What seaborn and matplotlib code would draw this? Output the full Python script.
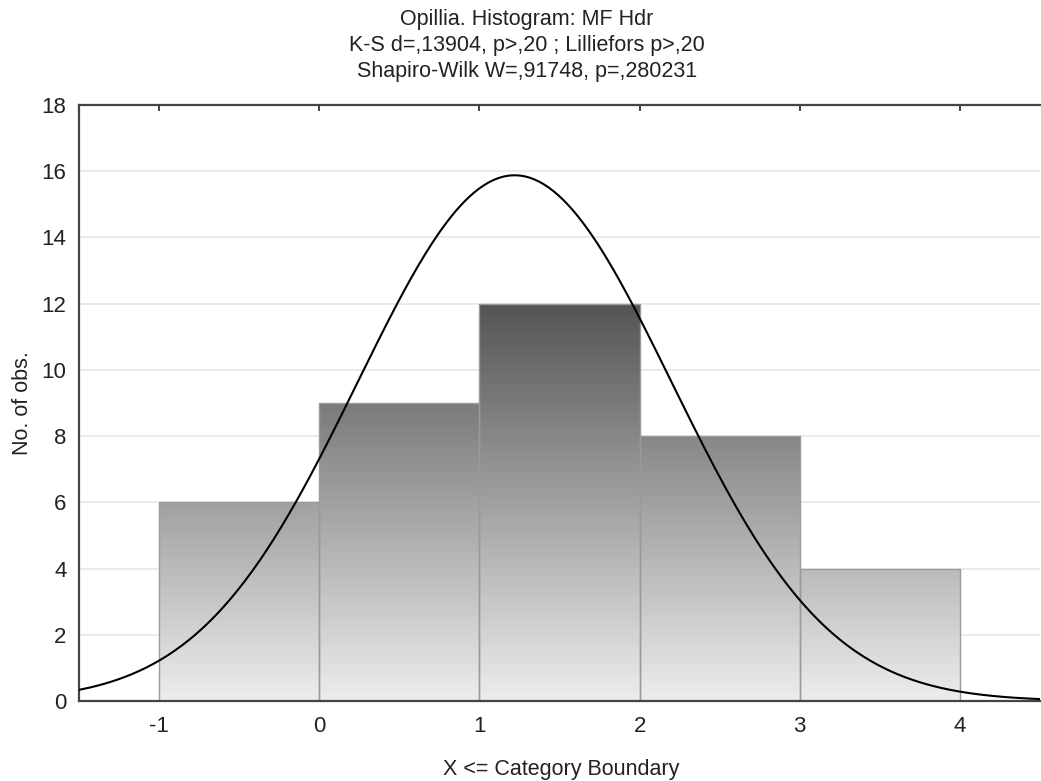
import numpy as np
import pandas as pd
import matplotlib
matplotlib.use("Agg")
import matplotlib.pyplot as plt
import seaborn as sns

# Data
bin_edges = [-1, 0, 1, 2, 3, 4]
bin_counts = [6, 9, 12, 8, 4]
fit_mean = 1.22
fit_sd = 0.98
x_ticks = [-1, 0, 1, 2, 3, 4]
y_ticks = [0, 2, 4, 6, 8, 10, 12, 14, 16, 18]
title_lines = ["Opillia. Histogram: MF Hdr",
               "K-S d=,13904, p>,20 ; Lilliefors p>,20",
               "Shapiro-Wilk W=,91748, p=,280231"]

sns.set_style("white")
plt.rcParams['font.family'] = ['Liberation Sans', 'DejaVu Sans']
plt.rcParams['axes.unicode_minus'] = False

fig = plt.figure(figsize=(10.41, 7.81), dpi=100)
ax = fig.add_axes([0.0759, 0.1024, 0.9231, 0.7632])

centers = [(a + b) / 2 for a, b in zip(bin_edges[:-1], bin_edges[1:])]
df = pd.DataFrame({"x": centers, "w": bin_counts})
sns.histplot(data=df, x="x", weights="w", bins=bin_edges, ax=ax,
             facecolor="none", edgecolor="#9a9a9a", linewidth=1.0, zorder=2)

# gradient fill clipped to each bar
grad = np.linspace(0, 1, 256).reshape(-1, 1)
cmap = matplotlib.colors.LinearSegmentedColormap.from_list("g", ["#ededed", "#545454"])
for p in ax.patches:
    im = ax.imshow(grad, cmap=cmap, origin="lower", aspect="auto",
                   extent=[-1.5, 4.5, 0, 12], zorder=1.5, interpolation="bicubic")
    im.set_clip_path(p)

# normal fit curve
xs = np.linspace(-1.5, 4.5, 400)
n = sum(bin_counts)
ys = n * 1.0 / (fit_sd * np.sqrt(2 * np.pi)) * np.exp(-0.5 * ((xs - fit_mean) / fit_sd) ** 2)
sns.lineplot(x=xs, y=ys, ax=ax, color="black", linewidth=1.5, zorder=4)

ax.set_xlim(-1.5, 4.5)
ax.set_ylim(0, 18)
ax.set_xticks(x_ticks)
ax.set_yticks(y_ticks)
ax.yaxis.grid(True, color="#e6e6e6", linewidth=1.2, zorder=0)
ax.set_axisbelow(True)
ax.tick_params(axis="both", labelsize=16, colors="#222222", direction="in",
               length=4, width=1.2)
ax.tick_params(axis="x", top=True, pad=11)
ax.tick_params(axis="y", pad=9)
for s in ["left", "bottom", "top"]:
    ax.spines[s].set_visible(True)
    ax.spines[s].set_color("#444444")
    ax.spines[s].set_linewidth(1.6)
ax.spines["right"].set_visible(False)

ax.set_xlabel("X <= Category Boundary", fontsize=15.5, color="#222222")
ax.set_ylabel("No. of obs.", fontsize=15.5, color="#222222")
ax.xaxis.set_label_coords(0.502, -0.097)
ax.yaxis.set_label_coords(-0.048, 0.5)

for i, t in enumerate(title_lines):
    fig.text(0.506, 1 - (19 + 26.5 * i) / 781, t, ha="center", va="center",
             fontsize=15.5, color="#222222")

fig.savefig("out.png", dpi=100)
